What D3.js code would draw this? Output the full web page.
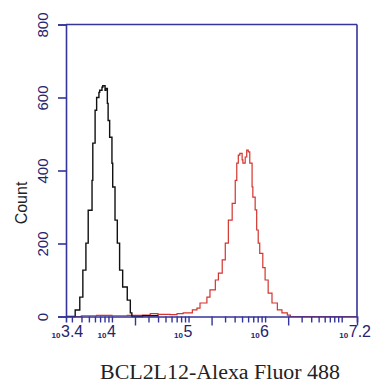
<!DOCTYPE html>
<html><head><meta charset="utf-8">
<script src="https://cdn.jsdelivr.net/npm/d3@7"></script>
<style>html,body{margin:0;padding:0;background:#fff;}svg{display:block;}</style>
</head><body>
<svg id="chart" width="372" height="385"></svg>
<script>
// ---- data (x as log10 of fluorescence, y as event count) ----
const blackExp = [3.40,3.45,3.52,3.58,3.62,3.66,3.69,3.74,3.75,3.78,3.80,3.83,3.84,3.87,3.88,3.91,3.92,3.94,3.95,3.97,4.00,4.01,4.04,4.07,4.10,4.14,4.20,4.24,4.26,4.40,4.60];
const blackCount = [0,0,18,53,127,201,291,373,475,565,600,614,620,628,632,620,625,584,537,491,420,355,264,201,127,81,45,10,0,2,0];
const redExp = [3.40,3.60,3.80,4.00,4.20,4.40,4.50,4.60,4.76,4.85,4.93,5.05,5.11,5.15,5.24,5.28,5.35,5.39,5.44,5.48,5.52,5.57,5.61,5.63,5.65,5.67,5.70,5.71,5.74,5.76,5.78,5.80,5.83,5.84,5.87,5.89,5.91,5.93,5.97,6.00,6.04,6.09,6.16,6.22,6.29,6.33,6.60,7.20];
const redCount = [0,2,3,2,3,4,8,6,5,8,10,18,23,37,53,73,100,119,155,201,264,310,373,420,442,447,429,420,437,456,451,420,355,327,292,237,201,173,134,100,64,37,18,10,4,0,0,0];
const yTicks = [0,200,400,600,800];
const xLabelExps = [3.4,4,5,6,7.2];
const xLabelTexts = ["3.4","4","5","6","7.2"];
const yTitle = "Count";
const xTitle = "BCL2L12-Alexa Fluor 488";

// ---- layout ----
const W = 372, L = 66, R = 357, T = 24.5, B = 316.5;
const axisColor = "#34349a";
const svg = d3.select("#chart");
const x = d3.scaleLog().domain([Math.pow(10,3.4), Math.pow(10,7.2)]).range([L, R]);
const y = d3.scaleLinear().domain([0, 800]).range([B, T]);

// curves
const line = d3.line().x(d => x(Math.pow(10, d[0]))).y(d => y(d[1])).curve(d3.curveStepAfter);
svg.append("path").datum(redExp.map((e,i)=>[e, redCount[i]]))
  .attr("d", line).attr("fill","none").attr("stroke","#d2342e").attr("stroke-width",1.2);
svg.append("path").datum(blackExp.map((e,i)=>[e, blackCount[i]]))
  .attr("d", line).attr("fill","none").attr("stroke","#111").attr("stroke-width",1.4);

// frame (top and right)
svg.append("line").attr("x1",L).attr("x2",R).attr("y1",T).attr("y2",T).attr("stroke",axisColor).attr("stroke-width",1.6);
svg.append("line").attr("x1",R).attr("x2",R).attr("y1",T).attr("y2",B).attr("stroke",axisColor).attr("stroke-width",1.6);

// y axis
const yAxis = svg.append("g").attr("transform",`translate(${L},0)`)
  .call(d3.axisLeft(y).tickValues(yTicks).tickSize(8).tickFormat(d3.format("d")));
yAxis.select(".domain").attr("stroke",axisColor).attr("stroke-width",1.6);
yAxis.selectAll(".tick line").attr("stroke",axisColor).attr("stroke-width",1.6);
yAxis.selectAll(".tick text")
  .attr("x",null).attr("dy",null)
  .attr("transform","translate(-18,0) rotate(-90)")
  .attr("text-anchor","middle")
  .attr("fill","#24246e")
  .style("font-family","'Liberation Sans', Arial, sans-serif")
  .style("font-size","15px");

// x axis ticks
const minorVals = [];
for (let n = 3; n <= 7; n++) for (let k = 1; k <= 9; k++) {
  const v = k * Math.pow(10, n);
  if (v > Math.pow(10,3.4) && v < Math.pow(10,7.2)) minorVals.push(v);
}
const xAxis = svg.append("g").attr("transform",`translate(0,${B})`)
  .call(d3.axisBottom(x).tickValues(minorVals.concat([Math.pow(10,7.2)])).tickSize(6).tickFormat(""));
xAxis.select(".domain").attr("stroke",axisColor).attr("stroke-width",1.6);
xAxis.selectAll(".tick line").attr("stroke",axisColor).attr("stroke-width",1.4)
  .attr("y2", d => {
    const m = d / Math.pow(10, Math.floor(Math.log10(d) + 1e-9));
    return (Math.abs(m - 2) < 1e-6 || d === Math.pow(10,7.2)) ? 9 : 6;
  });

// x tick labels: small "10" then large exponent
const lab = svg.append("g").selectAll("g").data(xLabelExps).join("g");
lab.append("text").attr("class","base").attr("text-anchor","end").attr("x",-0.5).attr("y",1)
  .attr("fill","#24246e").style("font-family","'Liberation Sans', Arial, sans-serif")
  .style("font-size","8px").style("font-weight","bold").text("10");
lab.append("text").attr("class","exp").attr("text-anchor","start").attr("x",0)
  .attr("fill","#24246e").style("font-family","'Liberation Sans', Arial, sans-serif")
  .style("font-size","16px").text((d,i) => xLabelTexts[i]);
lab.attr("transform", function(d) {
  const w = d3.select(this).select(".exp").node().getComputedTextLength();
  let px = x(Math.pow(10,d)) - 5;
  if (px + w > W - 1) px = W - 1 - w;
  return `translate(${px},337)`;
});

// axis titles
svg.append("text").attr("transform","translate(27,203) rotate(-90)")
  .attr("text-anchor","middle").attr("fill","#222")
  .style("font-family","'Liberation Sans', Arial, sans-serif").style("font-size","16px")
  .text(yTitle);
svg.append("text").attr("x",100).attr("y",379).attr("text-anchor","start").attr("fill","#222")
  .attr("textLength",240).attr("lengthAdjust","spacingAndGlyphs")
  .style("font-family","'Liberation Serif', 'Times New Roman', serif").style("font-size","20px")
  .text(xTitle);
</script>
</body></html>
